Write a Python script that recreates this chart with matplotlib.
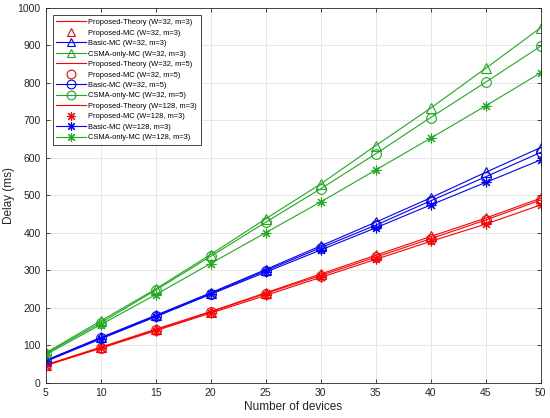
import matplotlib
matplotlib.use("Agg")
import matplotlib.pyplot as plt
import numpy as np

plt.rcParams['font.family'] = ['Liberation Sans', 'DejaVu Sans']

devices = [5, 10, 15, 20, 25, 30, 35, 40, 45, 50]

# red: proposed (theory lines + MC markers)
prop_w32_m3 = [48, 95, 143, 190, 240, 290, 340, 390, 439, 492]
prop_w32_m5 = [47, 94, 141, 189, 238, 286, 335, 384, 434, 487]
prop_w128_m3 = [46, 92, 139, 186, 233, 281, 329, 377, 423, 474]
# blue: basic MC
basic_w32_m3 = [60, 121, 180, 240, 302, 365, 428, 493, 561, 627]
basic_w32_m5 = [59, 119, 178, 238, 299, 360, 420, 485, 549, 614]
basic_w128_m3 = [57, 117, 176, 236, 295, 354, 413, 474, 534, 594]
# green: CSMA-only MC
csma_w32_m3 = [80, 165, 250, 342, 437, 530, 632, 732, 838, 946]
csma_w32_m5 = [78, 160, 247, 337, 428, 517, 610, 707, 801, 897]
csma_w128_m3 = [75, 155, 235, 318, 400, 482, 567, 652, 738, 826]

red = '#ff0000'
blue = '#0000ff'
green = '#1faa1f'

fig = plt.figure(figsize=(5.5, 4.18), dpi=100)
ax = fig.add_axes([0.083, 0.084, 0.9, 0.898])

ms = 7
lw = 0.8
asterisk = (8, 2, 0)
groups = [
    ('W=32, m=3', '^', prop_w32_m3, basic_w32_m3, csma_w32_m3),
    ('W=32, m=5', 'o', prop_w32_m5, basic_w32_m5, csma_w32_m5),
    ('W=128, m=3', asterisk, prop_w128_m3, basic_w128_m3, csma_w128_m3),
]
for tag, mk, p, b, c in groups:
    ax.plot(devices, p, '-', color=red, lw=lw, label='Proposed-Theory (%s)' % tag)
    ax.plot(devices, p, linestyle='none', marker=mk, color=red, mfc='none',
            ms=ms, mew=0.8, label='Proposed-MC (%s)' % tag)
    ax.plot(devices, b, '-', marker=mk, color=blue, mfc='none', ms=ms, mew=0.8,
            lw=lw, label='Basic-MC (%s)' % tag)
    ax.plot(devices, c, '-', marker=mk, color=green, mfc='none', ms=ms, mew=0.8,
            lw=lw, label='CSMA-only-MC (%s)' % tag)

ax.set_xlim(5, 50)
ax.set_ylim(0, 1000)
ax.set_xticks(np.arange(5, 51, 5))
ax.set_yticks(np.arange(0, 1001, 100))
ax.grid(True, color='#e3e3e3', lw=0.6)
ax.tick_params(direction='in', top=True, right=True, labelsize=7.5, colors='#262626',
               length=3, width=0.6)
for s in ax.spines.values():
    s.set_color('#262626')
    s.set_linewidth(0.6)
ax.set_xlabel('Number of devices', fontsize=8.5, color='#262626', labelpad=2)
ax.set_ylabel('Delay (ms)', fontsize=8.5, color='#262626', labelpad=2)

leg = ax.legend(loc='upper left', fontsize=5.45, handlelength=3.9, labelspacing=0.42,
                borderpad=0.5, handletextpad=0.3, fancybox=False, framealpha=1,
                edgecolor='#262626', bbox_to_anchor=(0.014, 0.98),
                borderaxespad=0, markerscale=0.9)
leg.get_frame().set_linewidth(0.6)

fig.savefig('out.png', dpi=100)
